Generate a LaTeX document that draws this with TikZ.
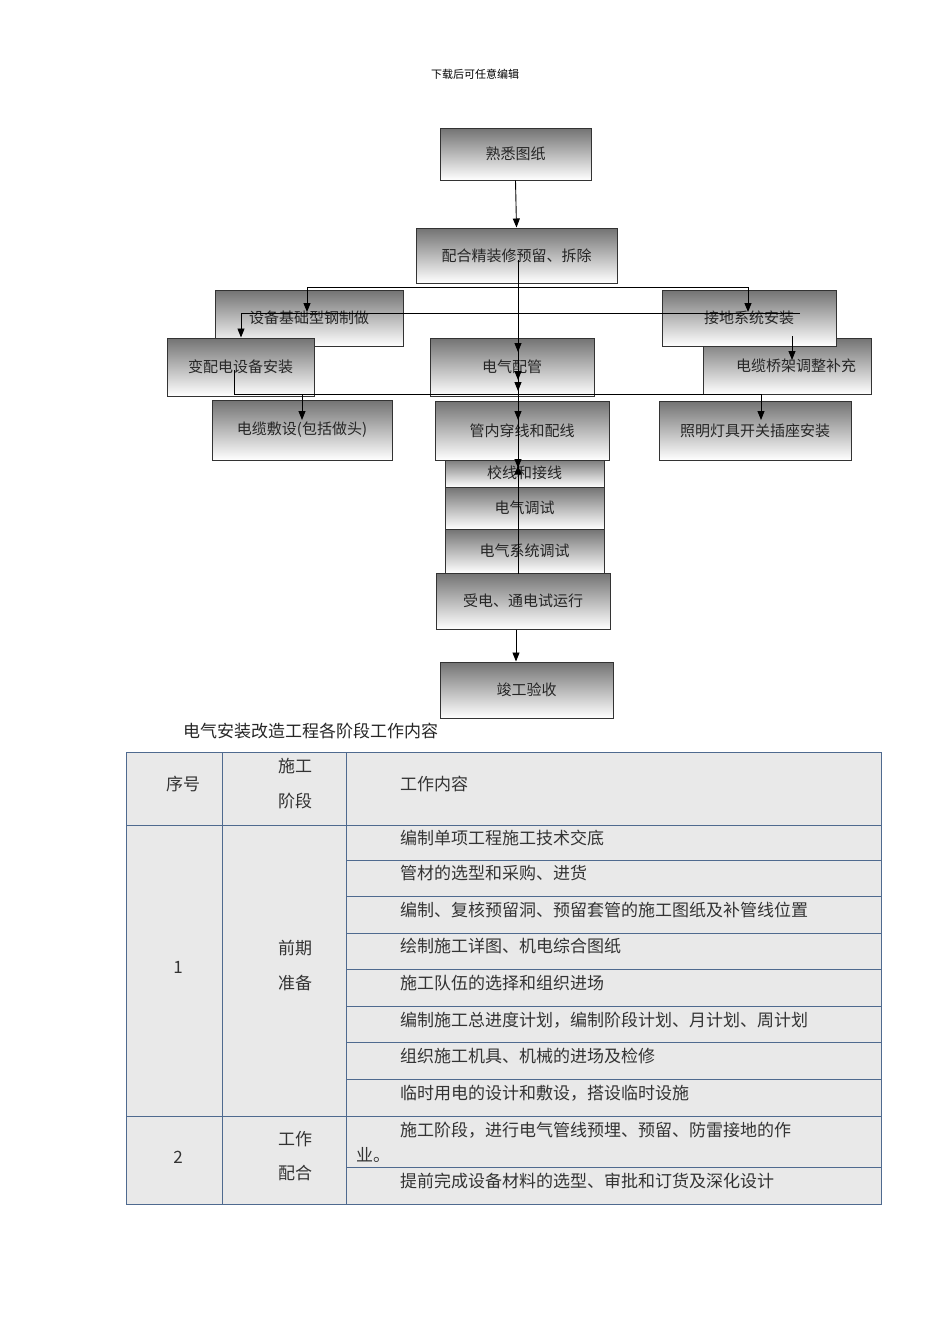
\documentclass[tikz,border=0pt]{standalone}
\usepackage{fontspec}
\setmainfont{Noto Sans CJK SC}
\usetikzlibrary{arrows.meta}
\definecolor{tl}{HTML}{4F6A8F}
\definecolor{tbg}{HTML}{E9E9E9}
\tikzset{
  fb/.style={draw=black!80,line width=1pt,top color=black!55,bottom color=white,inner sep=0pt,font=\fontsize{15}{15}\selectfont,text=black!85},
  ar/.style={draw=black,line width=0.9pt,-{Triangle[length=9pt,width=7pt]}},
  ln/.style={draw=black,line width=0.9pt},
  tline/.style={draw=tl,line width=1pt},
  tt/.style={font=\fontsize{17}{17}\selectfont,text=black!80,anchor=west,inner sep=0pt}
}
\newcommand\bx[6]{\node[fb,minimum width={(#4-#2)*1pt},minimum height={(#5-#3)*1pt}] (#1) at ({(#2+#4)/2},{(#3+#5)/2}) {#6};}
\begin{document}
\begin{tikzpicture}[x=1pt,y=-1pt]
\useasboundingbox (0,0) rectangle (950,1344);
\fill[white] (0,0) rectangle (950,1344);
\node[font=\fontsize{11}{11}\selectfont] (hd) at (475,74) {下载后可任意编辑};
% flowchart
\bx{a}{440}{128}{591}{180}{熟悉图纸}
\bx{b}{416}{228}{617}{283}{配合精装修预留、拆除}
\bx{c}{215}{290}{403}{346}{设备基础型钢制做}
\bx{f}{703}{338}{871}{394}{\hspace*{18pt}电缆桥架调整补充}
\bx{d}{662}{290}{836}{346}{接地系统安装}
\bx{e}{167}{338}{314}{396}{变配电设备安装}
\bx{g}{430}{338}{594}{396}{电气配管}
\bx{h}{212}{400}{392}{460}{电缆敷设(包括做头)}
\bx{k}{659}{401}{851}{460}{照明灯具开关插座安装}
\bx{m}{445}{458}{604}{487}{校线和接线}
\bx{i}{435}{401}{609}{460}{管内穿线和配线}
\bx{n}{445}{487}{604}{529}{电气调试}
\bx{o}{445}{529}{604}{573}{电气系统调试}
\bx{p}{436}{573}{610}{629}{受电、通电试运行}
\bx{q}{440}{662}{613}{718}{竣工验收}
\draw[ar] (a.south) -- (b.north);
\draw[ln] (b.south -| c.north) ++(92,0) coordinate (h1);
\draw[ar] (b.south) ++(0,4) coordinate (hb) -| (307,312);
\draw[ar] (hb) -| (748,312);
\draw[ln] (hb) ++(-209,0) -- ++(441,0);
\draw[ln] (518,260) -- (518,470);
\draw[ar] (518,260) -- (518,352);
\draw[ar] (518,352) -- (518,380);
\draw[ar] (518,380) -- (518,391);
\draw[ar] (518,391) -- (518,420);
\draw[ar] (518,420) -- (m.north -| 518,0) ++(0,8);
\draw[ar] (518,440) -- (518,468);
\draw[ln] (518,468) -- (o.south -| 518,0);
\draw[ar] (800,313) -- (241,313) -- (e.north -| 241,0);
\draw[ar] (792,336) -- (792,360);
\draw[ln] (234,370) -- (234,394) -- (761,394);
\draw[ar] (302,394) -- (302,420);
\draw[ar] (761,394) -- (761,420);
\draw[ar] (p.south -| 516,0) -- (q.north -| 516,0);
% caption
\node[font=\fontsize{17}{17}\selectfont,text=black!85,anchor=west,inner sep=0pt] (cap) at (183,731) {电气安装改造工程各阶段工作内容};
% table
\fill[tbg] (126,752) rectangle (881,1204);
\draw[tline] (126,752) rectangle (881,1204);
\draw[tline] (222,752) -- (222,1204);
\draw[tline] (346,752) -- (346,1204);
\draw[tline] (126,825) -- (881,825);
\draw[tline] (126,1116) -- (881,1116);
\foreach \y in {860,896,933,969,1006,1042,1079,1167} \draw[tline] (346,\y) -- (881,\y);
\node[tt,anchor=center] (t1) at (183,784) {序号};
\node[tt,anchor=center] (t2) at (295,766) {施工};
\node[tt,anchor=center] (t3) at (295,801) {阶段};
\node[tt] (t4) at (400,784) {工作内容};
\node[tt,anchor=center] (r1) at (178,967) {1};
\node[tt,anchor=center] (r1a) at (295,948) {前期};
\node[tt,anchor=center] (r1b) at (295,983) {准备};
\node[tt] (c1) at (400,838) {编制单项工程施工技术交底};
\node[tt] (c2) at (400,873) {管材的选型和采购、进货};
\node[tt] (c3) at (400,910) {编制、复核预留洞、预留套管的施工图纸及补管线位置};
\node[tt] (c4) at (400,946) {绘制施工详图、机电综合图纸};
\node[tt] (c5) at (400,983) {施工队伍的选择和组织进场};
\node[tt] (c6) at (400,1020) {编制施工总进度计划，编制阶段计划、月计划、周计划};
\node[tt] (c7) at (400,1056) {组织施工机具、机械的进场及检修};
\node[tt] (c8) at (400,1093) {临时用电的设计和敷设，搭设临时设施};
\node[tt,anchor=center] (r2) at (178,1157) {2};
\node[tt,anchor=center] (r2a) at (295,1139) {工作};
\node[tt,anchor=center] (r2b) at (295,1173) {配合};
\node[tt] (c9) at (400,1130) {施工阶段，进行电气管线预埋、预留、防雷接地的作};
\node[tt] (c9b) at (356,1155) {业。};
\node[tt] (c10) at (400,1181) {提前完成设备材料的选型、审批和订货及深化设计};
\end{tikzpicture}
\end{document}
